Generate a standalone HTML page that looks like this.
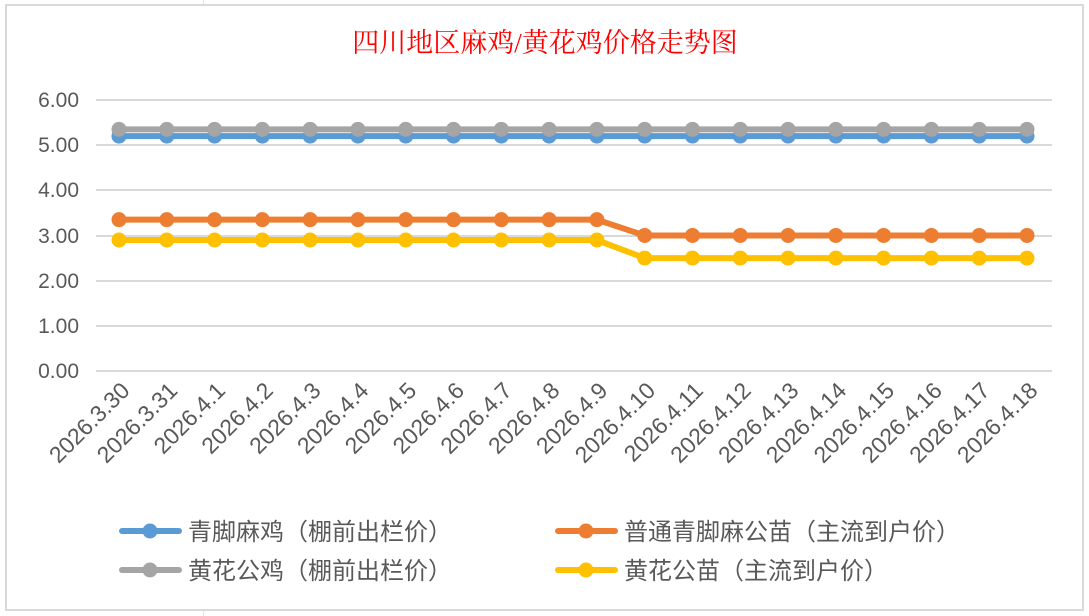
<!DOCTYPE html>
<html><head><meta charset="utf-8"><style>
html,body{margin:0;padding:0;background:#fff;}
svg{display:block;}
</style></head><body>
<svg width="1089" height="616" viewBox="0 0 1089 616" xmlns="http://www.w3.org/2000/svg">
<rect x="0" y="0" width="1089" height="616" fill="#fff"/>
<line x1="203.5" y1="0" x2="203.5" y2="616" stroke="#e3e3e3"/>
<rect x="6" y="5" width="1077" height="605" fill="#fff" stroke="#d9d9d9" stroke-width="2"/>
<text x="545" y="52" text-anchor="middle" font-family="'Liberation Serif','Noto Serif CJK SC',serif" font-size="27" fill="#ff0000">四川地区麻鸡/黄花鸡价格走势图</text>
<g stroke="#d9d9d9" stroke-width="2">
<line x1="96" x2="1052" y1="100" y2="100"/>
<line x1="96" x2="1052" y1="145" y2="145"/>
<line x1="96" x2="1052" y1="190" y2="190"/>
<line x1="96" x2="1052" y1="236" y2="236"/>
<line x1="96" x2="1052" y1="281" y2="281"/>
<line x1="96" x2="1052" y1="326" y2="326"/>
<line x1="96" x2="1052" y1="371" y2="371"/>
</g>
<g font-family="'Liberation Sans','Noto Sans CJK SC',sans-serif" font-size="21" fill="#595959" text-anchor="end">
<text x="79" y="107">6.00</text>
<text x="79" y="152">5.00</text>
<text x="79" y="197">4.00</text>
<text x="79" y="243">3.00</text>
<text x="79" y="288">2.00</text>
<text x="79" y="333">1.00</text>
<text x="79" y="378">0.00</text>
</g>
<g id="series" stroke-width="6" fill="none" stroke-linejoin="round"></g>
<g id="xl" font-family="'Liberation Sans','Noto Sans CJK SC',sans-serif" font-size="23" fill="#595959" text-anchor="end">
<text>2026.3.30</text><text>2026.3.31</text><text>2026.4.1</text><text>2026.4.2</text><text>2026.4.3</text>
<text>2026.4.4</text><text>2026.4.5</text><text>2026.4.6</text><text>2026.4.7</text><text>2026.4.8</text>
<text>2026.4.9</text><text>2026.4.10</text><text>2026.4.11</text><text>2026.4.12</text><text>2026.4.13</text>
<text>2026.4.14</text><text>2026.4.15</text><text>2026.4.16</text><text>2026.4.17</text><text>2026.4.18</text>
</g>
<g stroke-width="6" stroke-linecap="round">
<line x1="122" y1="531" x2="179" y2="531" stroke="#5b9bd5"/><circle cx="150" cy="531" r="7.5" fill="#5b9bd5"/>
<line x1="122" y1="570" x2="179" y2="570" stroke="#a5a5a5"/><circle cx="150" cy="570" r="7.5" fill="#a5a5a5"/>
<line x1="558" y1="531" x2="615" y2="531" stroke="#ed7d31"/><circle cx="586" cy="531" r="7.5" fill="#ed7d31"/>
<line x1="558" y1="570" x2="615" y2="570" stroke="#ffc000"/><circle cx="586" cy="570" r="7.5" fill="#ffc000"/>
</g>
<g font-family="'Liberation Sans','Noto Sans CJK SC',sans-serif" font-size="24" fill="#595959">
<text x="188" y="540">青脚麻鸡（棚前出栏价）</text>
<text x="188" y="579">黄花公鸡（棚前出栏价）</text>
<text x="624" y="540">普通青脚麻公苗（主流到户价）</text>
<text x="624" y="579">黄花公苗（主流到户价）</text>
</g>
</svg>
<script>
(function(){
var N=20,xs=[];for(var i=0;i<N;i++)xs.push(119+i*(1027-119)/(N-1));
var ns='http://www.w3.org/2000/svg',g=document.getElementById('series');
function y(v){return 371-v*45.17;}
function step(a,b){var r=[];for(var i=0;i<N;i++)r.push(i<=10?a:b);return r;}
var data=[[step(5.2,5.2),'#5b9bd5'],[step(5.35,5.35),'#a5a5a5'],[step(3.35,3),'#ed7d31'],[step(2.9,2.5),'#ffc000']];
data.forEach(function(d){
 var p=document.createElementNS(ns,'polyline');
 p.setAttribute('points',d[0].map(function(v,i){return xs[i]+','+y(v)}).join(' '));
 p.setAttribute('stroke',d[1]);g.appendChild(p);
 d[0].forEach(function(v,i){var c=document.createElementNS(ns,'circle');
  c.setAttribute('cx',xs[i]);c.setAttribute('cy',y(v));c.setAttribute('r',7.5);
  c.setAttribute('fill',d[1]);c.setAttribute('stroke','none');g.appendChild(c);});
});
document.querySelectorAll('#xl text').forEach(function(t,i){t.setAttribute('transform','translate('+(xs[i]+12)+',392) rotate(-45)');});
})();
</script>
</body></html>
